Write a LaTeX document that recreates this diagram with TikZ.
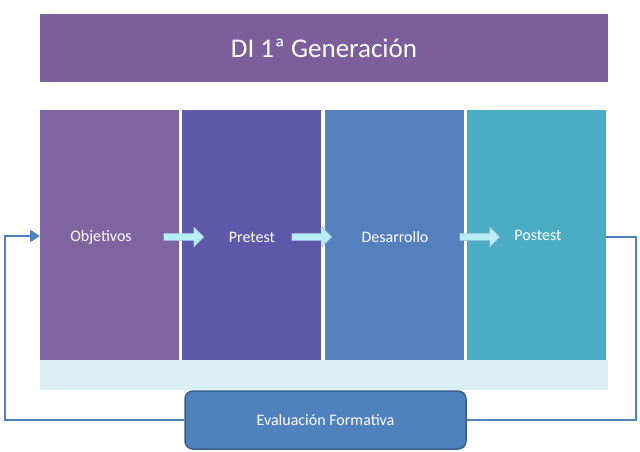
\documentclass[tikz,border=0pt]{standalone}
\usepackage{fontspec}
\setmainfont{Carlito}
\usetikzlibrary{shapes.arrows,arrows.meta}
\definecolor{ttl}{HTML}{7B5E9A}
\definecolor{c1}{HTML}{8064A2}
\definecolor{c2}{HTML}{5F58AA}
\definecolor{c3}{HTML}{5580BE}
\definecolor{c4}{HTML}{4BACC6}
\definecolor{band}{HTML}{DAEEF3}
\definecolor{evb}{HTML}{4F81BD}
\definecolor{evd}{HTML}{385D8A}
\definecolor{arf}{HTML}{B7EEF5}
\begin{document}
\begin{tikzpicture}[x=1pt,y=-1pt,
  col/.style={minimum width=139pt,minimum height=250pt,inner sep=0pt,draw=none},
  lbl/.style={text=white,font=\fontsize{16}{18}\selectfont},
  sarr/.style={single arrow,fill=arf,draw=c3!60,minimum height=40pt,minimum width=20pt,single arrow head extend=4pt,inner sep=2pt}]
\useasboundingbox (0,0) rectangle (640,452);
\node[fill=ttl,minimum width=568pt,minimum height=68pt,inner sep=0pt,text=white,font=\fontsize{27}{30}\selectfont] (title) at (324,48) {DI 1ª Generación};
\node[fill=band,minimum width=568pt,minimum height=30pt,inner sep=0pt] (band) at (324,375) {};
\node[col,fill=c1] (k1) at (109.5,235) {};
\node[col,fill=c2] (k2) at (251.5,235) {};
\node[col,fill=c3] (k3) at (394,235) {};
\node[col,fill=c4] (k4) at (536.5,235) {};
\node[lbl] (o) at (101,237) {Objetivos};
\node[lbl] (p) at (252,237) {Pretest};
\node[lbl] (d) at (395,237) {Desarrollo};
\node[lbl] (q) at (538,235) {Postest};
\node[sarr] (a1) at (182,237) {};
\node[sarr] (a2) at (310,237) {};
\node[sarr] (a3) at (478,237) {};
\node[fill=evb,draw=evd,line width=1.5pt,rounded corners=8pt,minimum width=281pt,minimum height=58pt,text=white,font=\fontsize{16}{18}\selectfont] (ev) at (325.5,420) {Evaluación Formativa};
\coordinate (l1) at (5,420);
\coordinate (l2) at (5,236);
\coordinate (r1) at (636,237);
\coordinate (r2) at (636,420);
\draw[evb,line width=2.5pt,-{Triangle[length=10pt,width=12pt]}] (ev.west) -- (l1) -- (l2) -- (40,236);
\draw[evb,line width=2.5pt] (606,237) -- (r1) -- (r2) -- (ev.east);
\end{tikzpicture}
\end{document}
